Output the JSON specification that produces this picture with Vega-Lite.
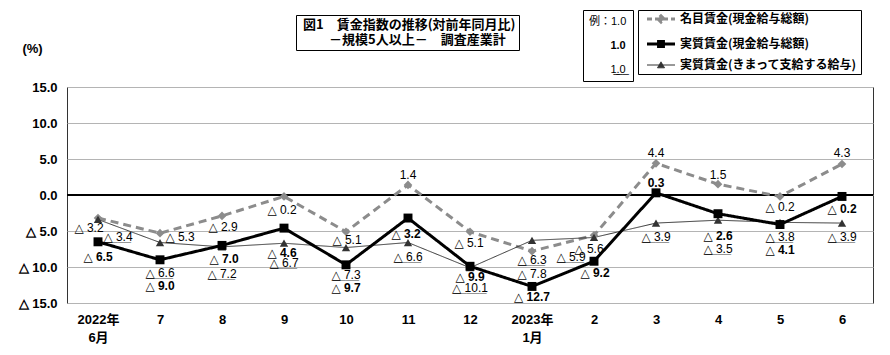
{
  "$schema": "https://vega.github.io/schema/vega-lite/v6.json",
  "width": 806,
  "height": 216,
  "autosize": "none",
  "padding": {"left": 67, "top": 87, "right": 17, "bottom": 52},
  "background": "#ffffff",
  "config": {
    "view": {"stroke": "#333333", "strokeWidth": 1},
    "font": "Liberation Sans"
  },
  "data": {
    "values": [
      {"k": "n", "mo": "2022/6", "v": -3.2}, {"k": "n", "mo": "7", "v": -5.3}, {"k": "n", "mo": "8", "v": -2.9},
      {"k": "n", "mo": "9", "v": -0.2}, {"k": "n", "mo": "10", "v": -5.1}, {"k": "n", "mo": "11", "v": 1.4},
      {"k": "n", "mo": "12", "v": -5.1}, {"k": "n", "mo": "2023/1", "v": -7.8}, {"k": "n", "mo": "2", "v": -5.6},
      {"k": "n", "mo": "3", "v": 4.4}, {"k": "n", "mo": "4", "v": 1.5}, {"k": "n", "mo": "5", "v": -0.2},
      {"k": "n", "mo": "6", "v": 4.3},
      {"k": "s", "mo": "2022/6", "v": -3.4}, {"k": "s", "mo": "7", "v": -6.6}, {"k": "s", "mo": "8", "v": -7.2},
      {"k": "s", "mo": "9", "v": -6.7}, {"k": "s", "mo": "10", "v": -7.3}, {"k": "s", "mo": "11", "v": -6.6},
      {"k": "s", "mo": "12", "v": -10.1}, {"k": "s", "mo": "2023/1", "v": -6.3}, {"k": "s", "mo": "2", "v": -5.9},
      {"k": "s", "mo": "3", "v": -3.9}, {"k": "s", "mo": "4", "v": -3.5}, {"k": "s", "mo": "5", "v": -3.8},
      {"k": "s", "mo": "6", "v": -3.9},
      {"k": "r", "mo": "2022/6", "v": -6.5}, {"k": "r", "mo": "7", "v": -9.0}, {"k": "r", "mo": "8", "v": -7.0},
      {"k": "r", "mo": "9", "v": -4.6}, {"k": "r", "mo": "10", "v": -9.7}, {"k": "r", "mo": "11", "v": -3.2},
      {"k": "r", "mo": "12", "v": -9.9}, {"k": "r", "mo": "2023/1", "v": -12.7}, {"k": "r", "mo": "2", "v": -9.2},
      {"k": "r", "mo": "3", "v": 0.3}, {"k": "r", "mo": "4", "v": -2.6}, {"k": "r", "mo": "5", "v": -4.1},
      {"k": "r", "mo": "6", "v": -0.2}
    ]
  },
  "encoding": {
    "x": {
      "field": "mo", "type": "ordinal",
      "scale": {"type": "point", "padding": 0.5, "domain": ["2022/6", "7", "8", "9", "10", "11", "12", "2023/1", "2", "3", "4", "5", "6"]},
      "axis": {
        "title": null, "labelAngle": 0, "ticks": false, "domain": false, "grid": false,
        "labelExpr": "datum.value == '2022/6' ? ['2022年', '6月'] : datum.value == '2023/1' ? ['2023年', '1月'] : datum.value",
        "labelPadding": 10, "labelFont": "Liberation Sans Narrow, Liberation Sans, Noto Sans CJK JP",
        "labelFontSize": 13, "labelFontWeight": "bold", "labelColor": "#000000", "labelLineHeight": 18
      }
    },
    "y": {
      "field": "v", "type": "quantitative",
      "scale": {"domain": [-15, 15], "nice": false, "zero": false},
      "axis": {
        "values": [-15, -10, -5, 0, 5, 10, 15],
        "labelExpr": "datum.value < 0 ? '△ ' + format(-datum.value, '.1f') : format(datum.value, '.1f')",
        "grid": true, "gridColor": "#b4b4b4", "gridWidth": 1, "domain": false, "ticks": false,
        "labelPadding": 10, "labelFont": "Liberation Sans", "labelFontSize": 13, "labelFontWeight": "bold", "labelColor": "#000000",
        "title": "(%)", "titleAngle": 0, "titleX": -35, "titleY": -39, "titleAlign": "center", "titleBaseline": "middle",
        "titleFont": "Liberation Sans", "titleFontSize": 13, "titleFontWeight": "bold", "titleColor": "#000000"
      }
    }
  },
  "layer": [
    {
      "mark": {"type": "rule", "color": "#000000", "strokeWidth": 2},
      "encoding": {"x": null, "y": {"datum": 0}}
    },
    {
      "mark": {
        "type": "line",
        "strokeWidth": {"expr": "datum.k == 's' ? 1 : 3"},
        "strokeDash": {"expr": "datum.k == 'n' ? [8, 5] : [1, 0]"}
      },
      "encoding": {
        "color": {
          "field": "k", "type": "nominal",
          "scale": {"domain": ["n", "r", "s"], "range": ["#8c8c8c", "#000000", "#333333"]},
          "legend": {
            "orient": "none", "legendX": 571, "legendY": -77, "title": null,
            "strokeColor": "#000000", "fillColor": "#ffffff", "padding": 3, "rowPadding": 6,
            "symbolSize": 196, "labelOffset": 27,
            "symbolType": {"expr": "datum.value == 'n' ? 'M0,0H4M2,-0.45L2.45,0L2,0.45L1.55,0Z' : datum.value == 'r' ? 'M0,0H4M1.65,-0.35H2.35V0.35H1.65Z' : 'M0,0H4M2,-0.45L2.5,0.4H1.5Z'"},
            "symbolFillColor": {"expr": "datum.value == 'n' ? '#8c8c8c' : '#000000'"},
            "symbolStrokeWidth": {"expr": "datum.value == 's' ? 1 : 3"},
            "symbolDash": {"expr": "datum.value == 'n' ? [5, 3] : [1, 0]"},
            "symbolOpacity": 1,
            "labelFont": "Noto Sans CJK JP", "labelFontSize": 12, "labelFontWeight": "bold", "labelLimit": 300, "labelColor": "#000000",
            "labelExpr": "datum.value == 'n' ? '名目賃金(現金給与総額)' : datum.value == 'r' ? '実質賃金(現金給与総額)' : '実質賃金(きまって支給する給与)'"
          }
        }
      }
    },
    {
      "mark": {
        "type": "point", "filled": true, "opacity": 1,
        "shape": {"expr": "datum.k == 'n' ? 'diamond' : datum.k == 'r' ? 'square' : 'triangle-up'"},
        "size": {"expr": "datum.k == 'n' ? 75 : datum.k == 'r' ? 80 : 70"}
      },
      "encoding": {
        "color": {"field": "k", "type": "nominal", "legend": null},
        "strokeWidth": {
          "field": "k", "type": "nominal",
          "scale": {"domain": ["r", "s", "n"], "range": [1, 1]},
          "legend": {
            "orient": "none", "legendX": 229, "legendY": -72, "values": ["r"], "title": null,
            "strokeColor": "#000000", "fillColor": "#ffffff", "padding": 3,
            "symbolSize": 0, "symbolOpacity": 0, "labelOffset": -9,
            "labelExpr": "['図1　賃金指数の推移(対前年同月比)', '\u200b　　－規模5人以上－　調査産業計']",
            "labelFont": "Noto Sans CJK JP", "labelFontSize": 13, "labelFontWeight": "bold", "labelLimit": 400, "labelColor": "#000000"
          }
        }
      }
    },
    {
      "transform": [
        {"calculate": "datum.v < 0 ? '△ ' + format(-datum.v, '.1f') : format(datum.v, '.1f')", "as": "lbl"}
      ],
      "mark": {
        "type": "text", "align": "center", "baseline": "middle",
        "font": "Liberation Sans Narrow, Liberation Sans, DejaVu Sans", "fontSize": 12,
        "fontWeight": {"expr": "datum.k == 'r' ? 'bold' : 'normal'"},
        "dx": {"expr": "(datum.k == 'n' ? [-9,20,1,-2,1,0,-1,0,-5,0,0,0,0] : datum.k == 'r' ? [0,0,2,-2,0,-2,0,0,1,0,0,0,0] : [20,0,0,0,0,0,0,0,-23,0,0,0,0])[indexof(['2022/6','7','8','9','10','11','12','2023/1','2','3','4','5','6'], datum.mo)]"},
        "dy": {"expr": "(datum.k == 'n' ? [10,4,11,14,8,-10,11,23,14,-10,-9,11,-11] : datum.k == 'r' ? [15,26,14,25,23,16,11,11,12,-10,22,25,13] : [18,30,27,20,27,14,20,20,20,14,29,15,14])[indexof(['2022/6','7','8','9','10','11','12','2023/1','2','3','4','5','6'], datum.mo)]"}
      },
      "encoding": {
        "text": {"field": "lbl"},
        "color": {"value": "#000000"},
        "opacity": {
          "field": "k", "type": "nominal",
          "scale": {"domain": ["s", "n", "r"], "range": [1, 1]},
          "legend": {
            "orient": "none", "legendX": 516, "legendY": -77, "values": ["n", "r", "s"], "title": null,
            "strokeColor": "#000000", "fillColor": "#ffffff", "padding": 6, "rowPadding": 12,
            "symbolSize": 0, "symbolOpacity": 0, "labelOffset": -11,
            "labelFont": "Liberation Sans Narrow, Liberation Sans, Noto Sans CJK JP", "labelFontSize": 11, "labelColor": "#000000", "labelLimit": 100,
            "labelFontWeight": {"expr": "datum.value == 'r' ? 'bold' : 'normal'"},
            "labelExpr": "datum.value == 'n' ? '例：1.0' : datum.value == 'r' ? '\u200b\u00a0\u00a0\u00a0\u00a0\u00a0\u00a0\u00a01.0' : '\u200b\u00a0\u00a0\u00a0\u00a0\u00a0\u00a0\u00a01̲.̲0̲'"
          }
        }
      }
    },
    {
      "transform": [
        {"filter": "datum.k == 's'"},
        {"calculate": "datum.v <= -10 ? '_____' : '____'", "as": "ul"}
      ],
      "mark": {
        "type": "text", "align": "center", "baseline": "middle",
        "font": "DejaVu Sans Mono", "fontSize": 11, "color": "#000000",
        "dx": {"expr": "[20,0,0,0,0,0,0,0,-23,0,0,0,0][indexof(['2022/6','7','8','9','10','11','12','2023/1','2','3','4','5','6'], datum.mo)]"},
        "dy": {"expr": "[18,30,27,20,27,14,20,20,20,14,29,15,14][indexof(['2022/6','7','8','9','10','11','12','2023/1','2','3','4','5','6'], datum.mo)]"}
      },
      "encoding": {
        "text": {"field": "ul"}
      }
    }
  ]
}
